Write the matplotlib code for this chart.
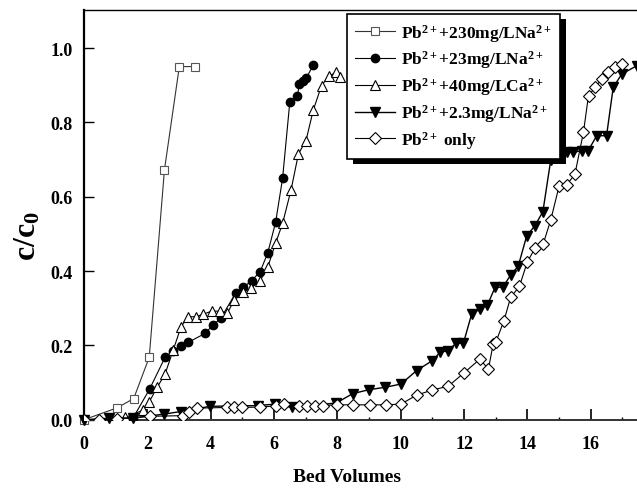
import matplotlib
matplotlib.use("Agg")
import matplotlib.pyplot as plt
from matplotlib.patches import Rectangle
from matplotlib.ticker import MultipleLocator

plt.rcParams['font.family'] = ['Liberation Serif', 'DejaVu Serif']
plt.rcParams['font.weight'] = 'bold'
plt.rcParams['mathtext.fontset'] = 'custom'
plt.rcParams['mathtext.rm'] = 'Liberation Serif:bold'
plt.rcParams['mathtext.bf'] = 'Liberation Serif:bold'
plt.rcParams['mathtext.it'] = 'Liberation Serif:bold'

# ---- data ----
x_na230 = [0, 1.05, 1.57, 2.06, 2.54, 3.01, 3.52]
y_na230 = [0, 0.032, 0.057, 0.168, 0.672, 0.95, 0.95]

x_na23 = [1.55, 2.07, 2.56, 2.82, 3.06, 3.29, 3.82, 4.08, 4.32, 4.79, 5.03, 5.29,
          5.56, 5.80, 6.05, 6.27, 6.50, 6.74, 6.80, 6.90, 7.01, 7.24]
y_na23 = [0.005, 0.082, 0.168, 0.186, 0.197, 0.208, 0.232, 0.255, 0.273, 0.341, 0.356, 0.374,
          0.398, 0.448, 0.531, 0.649, 0.856, 0.872, 0.903, 0.912, 0.918, 0.954]

x_ca40 = [1.31, 1.85, 2.06, 2.31, 2.56, 2.82, 3.06, 3.27, 3.53, 3.77, 4.03, 4.29, 4.53, 4.75,
          5.03, 5.26, 5.56, 5.80, 6.05, 6.27, 6.54, 6.77, 7.01, 7.24, 7.50, 7.73, 7.97, 8.08]
y_ca40 = [0.006, 0.025, 0.048, 0.087, 0.123, 0.188, 0.249, 0.277, 0.277, 0.284, 0.292, 0.292, 0.287, 0.323,
          0.344, 0.353, 0.374, 0.410, 0.475, 0.528, 0.619, 0.715, 0.751, 0.833, 0.899, 0.924, 0.935, 0.921]

x_na2_3 = [0, 0.79, 1.56, 2.53, 3.05, 3.98, 5.50, 6.03, 6.56, 7.97, 8.48, 9.01, 9.50, 10.01,
           10.50, 11.00, 11.24, 11.50, 11.75, 11.98, 12.24, 12.50, 12.74, 12.98, 13.22, 13.47,
           13.71, 13.98, 14.24, 14.49, 14.74, 15.00, 15.24, 15.45, 15.71, 15.92, 16.19, 16.50,
           16.71, 16.98, 17.45]
y_na2_3 = [0, 0.004, 0.005, 0.015, 0.022, 0.036, 0.038, 0.042, 0.033, 0.045, 0.070, 0.081, 0.087, 0.096,
           0.132, 0.159, 0.181, 0.186, 0.206, 0.206, 0.284, 0.298, 0.309, 0.356, 0.356, 0.389,
           0.413, 0.495, 0.522, 0.560, 0.700, 0.715, 0.720, 0.719, 0.724, 0.724, 0.764, 0.764,
           0.894, 0.930, 0.952]

x_pb = [0, 0.47, 1.05, 2.08, 3.14, 3.30, 3.58, 4.50, 4.75, 5.00, 5.55, 6.05, 6.30, 6.80, 7.05,
        7.29, 7.55, 8.00, 8.50, 9.03, 9.54, 10.01, 10.50, 11.00, 11.50, 12.00, 12.50, 12.77,
        12.92, 13.00, 13.26, 13.47, 13.75, 14.00, 14.24, 14.50, 14.74, 15.00, 15.24, 15.50,
        15.77, 15.93, 16.14, 16.35, 16.56, 16.77, 16.98]
y_pb = [0, 0.0, 0.002, 0.009, 0.011, 0.022, 0.031, 0.033, 0.033, 0.033, 0.034, 0.037, 0.042, 0.036, 0.036,
        0.036, 0.038, 0.04, 0.04, 0.04, 0.04, 0.042, 0.066, 0.080, 0.090, 0.126, 0.163, 0.136,
        0.204, 0.208, 0.266, 0.329, 0.359, 0.425, 0.461, 0.473, 0.538, 0.628, 0.632, 0.66,
        0.773, 0.872, 0.894, 0.917, 0.935, 0.948, 0.957]

labels = [r'Pb$^{2+}$+230mg/LNa$^{2+}$', r'Pb$^{2+}$+23mg/LNa$^{2+}$',
          r'Pb$^{2+}$+40mg/LCa$^{2+}$', r'Pb$^{2+}$+2.3mg/LNa$^{2+}$', r'Pb$^{2+}$ only']

xticks = [0, 2, 4, 6, 8, 10, 12, 14, 16]
yticks = [0.0, 0.2, 0.4, 0.6, 0.8, 1.0]

# ---- figure ----
W, H = 637, 489
fig = plt.figure(figsize=(W / 100, H / 100), dpi=100)
x0_px, ppu_x = 84, 31.67
y0_px, top_px = 420.7, 11
xmax = 17.5
ax = fig.add_axes([x0_px / W, (H - y0_px) / H, (xmax * ppu_x) / W, (y0_px - top_px) / H])
ymax = (y0_px - top_px) / 371.7
ax.set_xlim(0, xmax)
ax.set_ylim(0, ymax)

ax.plot(x_na230, y_na230, '-', color='#333333', lw=0.8, marker='s', ms=5.5, mfc='white',
        mec='#555555', mew=0.8, label=labels[0], clip_on=False, zorder=3)
ax.plot(x_na23, y_na23, '-', color='black', lw=0.8, marker='o', ms=6, mfc='black',
        mec='black', label=labels[1], zorder=3)
ax.plot(x_ca40, y_ca40, '-', color='black', lw=0.8, marker='^', ms=7.5, mfc='white',
        mec='black', mew=0.8, label=labels[2], zorder=3)
ax.plot(x_na2_3, y_na2_3, '-', color='black', lw=1.0, marker='v', ms=7.5, mfc='black',
        mec='black', label=labels[3], zorder=3, clip_on=False)
ax.plot(x_pb, y_pb, '-', color='black', lw=0.8, marker='D', ms=6.2, mfc='white',
        mec='black', mew=0.8, label=labels[4], zorder=3)

ax.set_xticks(xticks)
ax.set_xticklabels([str(t) for t in xticks])
ax.set_yticks(yticks)
ax.set_yticklabels([f'{t:.1f}' for t in yticks])
ax.xaxis.set_minor_locator(MultipleLocator(1))
ax.tick_params(axis='x', which='major', direction='in', length=8, width=1.2, pad=11,
               labelsize=13, top=False)
ax.tick_params(axis='x', which='minor', direction='in', length=2.5, width=1.0, top=False)
ax.tick_params(axis='y', which='major', direction='in', length=7, width=1.0, pad=8,
               labelsize=13, right=False)
for lab in ax.get_xticklabels() + ax.get_yticklabels():
    lab.set_fontweight('bold')

ax.spines['right'].set_visible(False)
ax.spines['left'].set_linewidth(1.6)
ax.spines['bottom'].set_linewidth(1.4)
ax.spines['bottom'].set_color('#333333')
ax.spines['top'].set_linewidth(1.0)

fig.text(347 / W, 1 - 478 / H, 'Bed Volumes', ha='center', va='center',
         fontsize=14, fontweight='bold')
fig.text(28 / W, 1 - 236 / H, r'c/c$_{0}$', ha='center', va='center',
         rotation=90, fontsize=23, fontweight='bold')

# legend with solid black shadow
lx0, ly0 = 347, 15
leg = ax.legend(loc='upper left', bbox_to_anchor=(lx0 / W, 1 - ly0 / H),
                bbox_transform=fig.transFigure, frameon=True, fancybox=False,
                edgecolor='black', framealpha=1, prop={'size': 12.5, 'weight': 'bold'},
                handlelength=2.3, handletextpad=0.35, labelspacing=0.28, borderpad=0.45,
                borderaxespad=0)
leg.get_frame().set_linewidth(1.2)
leg.set_zorder(6)
fig.canvas.draw()
bb = leg.get_window_extent().transformed(fig.transFigure.inverted())
sh = Rectangle((bb.x0 + 6 / W, bb.y0 - 5 / H), bb.width, bb.height,
               transform=fig.transFigure, facecolor='black', edgecolor='none',
               zorder=5.5, clip_on=False)
ax.add_patch(sh)

fig.savefig('out.png', dpi=100)
